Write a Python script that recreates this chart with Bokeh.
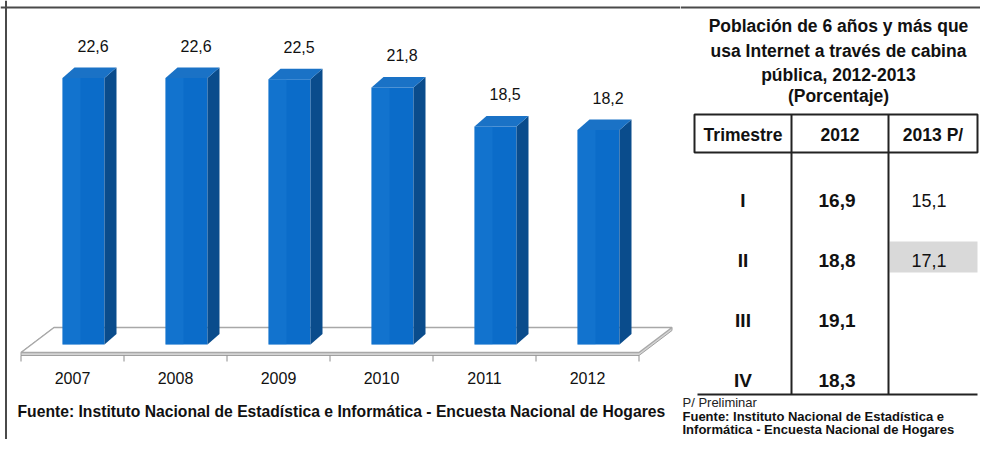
from bokeh.plotting import figure
from bokeh.layouts import row
from bokeh.models import Range1d, Span
from bokeh.embed import file_html
from bokeh.resources import INLINE
from bokeh.core.properties import value

# ---------------- data ----------------
years = ["2007", "2008", "2009", "2010", "2011", "2012"]
pct = [22.6, 22.6, 22.5, 21.8, 18.5, 18.2]

table_title = ["Población de 6 años y más que",
               "usa Internet a través de cabina",
               "pública, 2012-2013",
               "(Porcentaje)"]
table_header = ["Trimestre", "2012", "2013 P/"]
quarters = ["I", "II", "III", "IV"]
q2012 = [16.9, 18.8, 19.1, 18.3]
q2013 = [15.1, 17.1, None, None]
q2013_highlight = [False, True, False, False]

source_left = "Fuente: Instituto Nacional de Estadística e Informática - Encuesta Nacional de Hogares"
notes = ["P/ Preliminar",
         "Fuente: Instituto Nacional de Estadística e",
         "Informática -  Encuesta Nacional de Hogares"]


def fmt(v):
    return "" if v is None else f"{v:.1f}".replace(".", ",")


# ---------------- style ----------------
FONT = value("Liberation Sans")
FRONT, SIDE, TOP = "#0b6cc9", "#0a4c8c", "#1a72c6"
FRAME = "#4a4a4a"
INK = "#111111"
W1, W2, H = 680, 300, 439
PXX = 1 / 103.0      # data units per pixel (x)
PXY = 1 / 11.79      # data units per pixel (y)
X0, Y0 = 72.0, 344.0  # pixel of first category centre / zero line

# ---------------- left chart ----------------
p = figure(width=W1, height=H, output_backend="svg", toolbar_location=None,
           x_range=Range1d(-X0 * PXX, (W1 - X0) * PXX),
           y_range=Range1d((Y0 - H) * PXY, Y0 * PXY),
           x_axis_location=None, y_axis_location=None, min_border=0)
p.grid.visible = False
p.outline_line_color = None

n = len(years)
xs = list(range(n))
fl, fr = -0.5, n - 0.5
front_v, back_v = -8 * PXY, 17 * PXY
shift = 33 * PXX
thick = 3 * PXY

# floor slab
p.patch([fl, fr, fr + shift, fr + shift, fl + shift, fl],
        [front_v - thick, front_v - thick, back_v - thick, back_v, back_v, front_v],
        fill_color="#d4d4d4", line_color="#a0a0a0", line_width=1)
p.patch([fl, fr, fr + shift, fl + shift],
        [front_v, front_v, back_v, back_v],
        fill_color="white", line_color="#a8a8a8", line_width=1.5)

# ticks
ticks = [i - 0.5 for i in range(n + 1)]
p.segment(x0=ticks, y0=[front_v - thick] * len(ticks), x1=ticks,
          y1=[front_v - thick - 6 * PXY] * len(ticks), line_color="#8c8c8c", line_width=1)

# bars
left = [x - 10 * PXX for x in xs]
right = [x + 32 * PXX for x in xs]
dx, dy = 12 * PXX, 10.5 * PXY
p.quad(left=left, right=right, bottom=0, top=pct, fill_color=FRONT, line_color=None)
p.quad(left=left, right=[l + 18 * PXX for l in left], bottom=0, top=pct,
       fill_color="#2080d6", fill_alpha=0.35, line_color=None)
p.patches([[r, r + dx, r + dx, r] for r in right],
          [[0, dy, v + dy, v] for v in pct],
          fill_color=SIDE, line_color=None)
p.patches([[l, l + dx, r + dx, r] for l, r in zip(left, right)],
          [[v, v + dy, v + dy, v] for v in pct],
          fill_color=TOP, line_color=None)

# value labels
p.text(x=[x + 0.2 for x in xs], y=[v + 32 * PXY for v in pct], text=[fmt(v) for v in pct],
       text_align="center", text_baseline="middle", text_font=FONT,
       text_font_size="16px", text_color=INK)

# category labels
p.text(x=xs, y=[-33 * PXY] * n, text=years, text_align="center", text_baseline="middle",
       text_font=FONT, text_font_size="16px", text_color=INK)

# source
p.text(x=[(17 - X0) * PXX], y=[(Y0 - 411) * PXY], text=[source_left], text_align="left",
       text_baseline="middle", text_font=FONT, text_font_size="15.7px",
       text_font_style="bold", text_color=INK)

p.add_layout(Span(location=(Y0 - 7) * PXY, dimension="width", line_color=FRAME, line_width=2))
p.add_layout(Span(location=(5.5 - X0) * PXX, dimension="height", line_color=FRAME, line_width=2))

# ---------------- right table ----------------
q = figure(width=W2, height=H, output_backend="svg", toolbar_location=None,
           x_range=Range1d(W1, W1 + W2), y_range=Range1d(H, 0),
           x_axis_location=None, y_axis_location=None, min_border=0)
q.grid.visible = False
q.outline_line_color = None

q.add_layout(Span(location=7, dimension="width", line_color=FRAME, line_width=2))

title_y = [25, 50, 74, 95]
q.text(x=[838] * len(table_title), y=title_y, text=table_title, text_align="center",
       text_baseline="middle", text_font=FONT, text_font_size="17.5px",
       text_font_style="bold", text_color=INK)

col_edges = [694, 791, 888, 977]
col_mid = [(a + b) / 2 for a, b in zip(col_edges[:-1], col_edges[1:])]
h_top, h_bot = 114, 152
row0, pitch = 200, 60.0
row_y = [row0 + i * pitch for i in range(len(quarters))]
body_bot = 394

# highlighted cell(s)
hl_rows = [y for y, h in zip(row_y, q2013_highlight) if h]
q.quad(left=[col_edges[2] + 1] * len(hl_rows), right=[col_edges[3]] * len(hl_rows),
       top=[y - 19 for y in hl_rows], bottom=[y + 12 for y in hl_rows],
       fill_color="#d9d9d9", line_color=None)

q.quad(left=col_edges[0], right=col_edges[3], top=h_top, bottom=h_bot,
       fill_color=None, line_color="#222222", line_width=2)
q.segment(x0=col_edges[1:3], y0=[h_top] * 2, x1=col_edges[1:3], y1=[body_bot] * 2,
          line_color="#222222", line_width=2)
q.segment(x0=[col_edges[0] + 3], y0=[body_bot], x1=[col_edges[3]], y1=[body_bot],
          line_color="#222222", line_width=2)

q.text(x=[col_mid[0], col_mid[1], col_mid[2]], y=[134] * 3, text=table_header,
       text_align="center", text_baseline="middle", text_font=FONT,
       text_font_size="17.5px", text_font_style="bold", text_color=INK)

q.text(x=[col_mid[0]] * len(quarters), y=row_y, text=quarters, text_align="center",
       text_baseline="middle", text_font=FONT, text_font_size="19px",
       text_font_style="bold", text_color=INK)
q.text(x=[col_mid[1] - 3] * len(q2012), y=row_y, text=[fmt(v) for v in q2012],
       text_align="center", text_baseline="middle", text_font=FONT,
       text_font_size="19px", text_font_style="bold", text_color=INK)
q.text(x=[col_mid[2] - 4] * len(q2013), y=row_y, text=[fmt(v) for v in q2013],
       text_align="center", text_baseline="middle", text_font=FONT,
       text_font_size="18px", text_color=INK)

q.text(x=[682], y=[402], text=[notes[0]], text_align="left", text_baseline="middle",
       text_font=FONT, text_font_size="13px", text_color="#222222")
q.text(x=[682, 682], y=[415.5, 428.5], text=notes[1:], text_align="left",
       text_baseline="middle", text_font=FONT, text_font_size="13px",
       text_font_style="bold", text_color=INK)

layout = row(p, q, spacing=0)
open("out.html", "w").write(file_html(layout, INLINE, title="Cabina pública"))
